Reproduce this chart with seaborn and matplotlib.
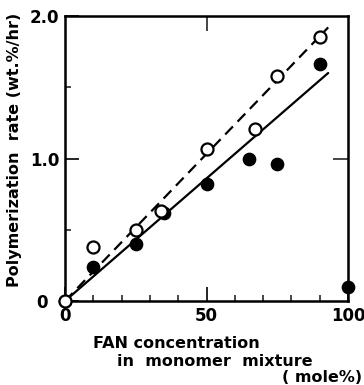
import numpy as np
import pandas as pd
import matplotlib
matplotlib.use('Agg')
import matplotlib.pyplot as plt
import matplotlib.transforms as mtransforms
import seaborn as sns

# data
fan_open = [0, 10, 25, 34, 50, 67, 75, 90]
rate_open = [0.0, 0.38, 0.50, 0.63, 1.07, 1.21, 1.58, 1.85]
fan_filled = [0, 10, 25, 35, 50, 65, 75, 90, 100]
rate_filled = [0.0, 0.24, 0.40, 0.62, 0.82, 1.00, 0.96, 1.66, 0.10]

# fitted lines
fit_x = [0, 93]
fit_dashed = [0, 1.92]
fit_solid = [0, 1.60]

sns.set_style('ticks')
plt.rcParams['font.family'] = ['DejaVu Sans']
plt.rcParams['text.color'] = 'black'

open_df = pd.DataFrame({'fan': fan_open, 'rate': rate_open})
filled_df = pd.DataFrame({'fan': fan_filled, 'rate': rate_filled})
fit_df = pd.DataFrame({'fan': fit_x, 'dashed': fit_dashed, 'solid': fit_solid})

fig = plt.figure(figsize=(3.64, 3.85), dpi=100)
ax = fig.add_axes([65 / 364, 84 / 385, 283 / 364, 285 / 385])

sns.lineplot(data=fit_df, x='fan', y='dashed', ax=ax, color='black', lw=1.6,
             linestyle=(0, (5, 3)), zorder=2)
sns.lineplot(data=fit_df, x='fan', y='solid', ax=ax, color='black', lw=1.6, zorder=2)
sns.scatterplot(data=filled_df, x='fan', y='rate', ax=ax, color='black', s=75,
                edgecolor='black', linewidth=1.2, zorder=3, clip_on=False)
sns.scatterplot(data=open_df, x='fan', y='rate', ax=ax, color='white', s=75,
                edgecolor='black', linewidth=1.6, zorder=4, clip_on=False)

ax.set_xlim(0, 100)
ax.set_ylim(0, 2.0)
ax.set_xlabel('')
ax.set_ylabel('')

for sp in ax.spines.values():
    sp.set_linewidth(1.8)
    sp.set_color('black')

ax.set_xticks([0, 50, 100])
ax.set_xticklabels(['0', '50', '100'], fontsize=12, fontweight='bold')
ax.set_xticks(np.arange(10, 100, 10), minor=True)
ax.set_yticks([0, 1.0, 2.0])
ax.set_yticklabels(['0', '1.0', '2.0'], fontsize=12, fontweight='bold')
ax.set_yticks([0.5, 1.5], minor=True)
ax.tick_params(axis='both', which='major', direction='in', length=10, width=1.2,
               pad=4, colors='black')
ax.tick_params(axis='both', which='minor', direction='in', length=4, width=1.2)

# y "0" label sits further left in the original
lab0 = ax.get_yticklabels()[0]
lab0.set_transform(lab0.get_transform() +
                   mtransforms.ScaledTranslation(-12 / 100, 0, fig.dpi_scale_trans))

# tick marks on right and top frame
ax_r = ax.secondary_yaxis('right')
ax_r.set_yticks([1.0])
ax_r.set_yticklabels([])
ax_r.tick_params(direction='in', length=11, width=1.2)
ax_t = ax.secondary_xaxis('top')
ax_t.set_xticks([50])
ax_t.set_xticklabels([])
ax_t.tick_params(direction='in', length=11, width=1.2)

fig.text(15 / 364, 1 - 150 / 385, 'Polymerization  rate (wt.%/hr)',
         rotation=90, ha='center', va='center', fontsize=11.5, fontweight='bold')
fig.text(93 / 364, 1 - 343 / 385, 'FAN concentration', ha='left', va='center',
         fontsize=11.5, fontweight='bold')
fig.text(117 / 364, 1 - 361 / 385, 'in  monomer  mixture', ha='left', va='center',
         fontsize=11.5, fontweight='bold')
fig.text(362 / 364, 1 - 378 / 385, '( mole%)', ha='right', va='center',
         fontsize=11.5, fontweight='bold')

fig.savefig('out.png', dpi=100)
